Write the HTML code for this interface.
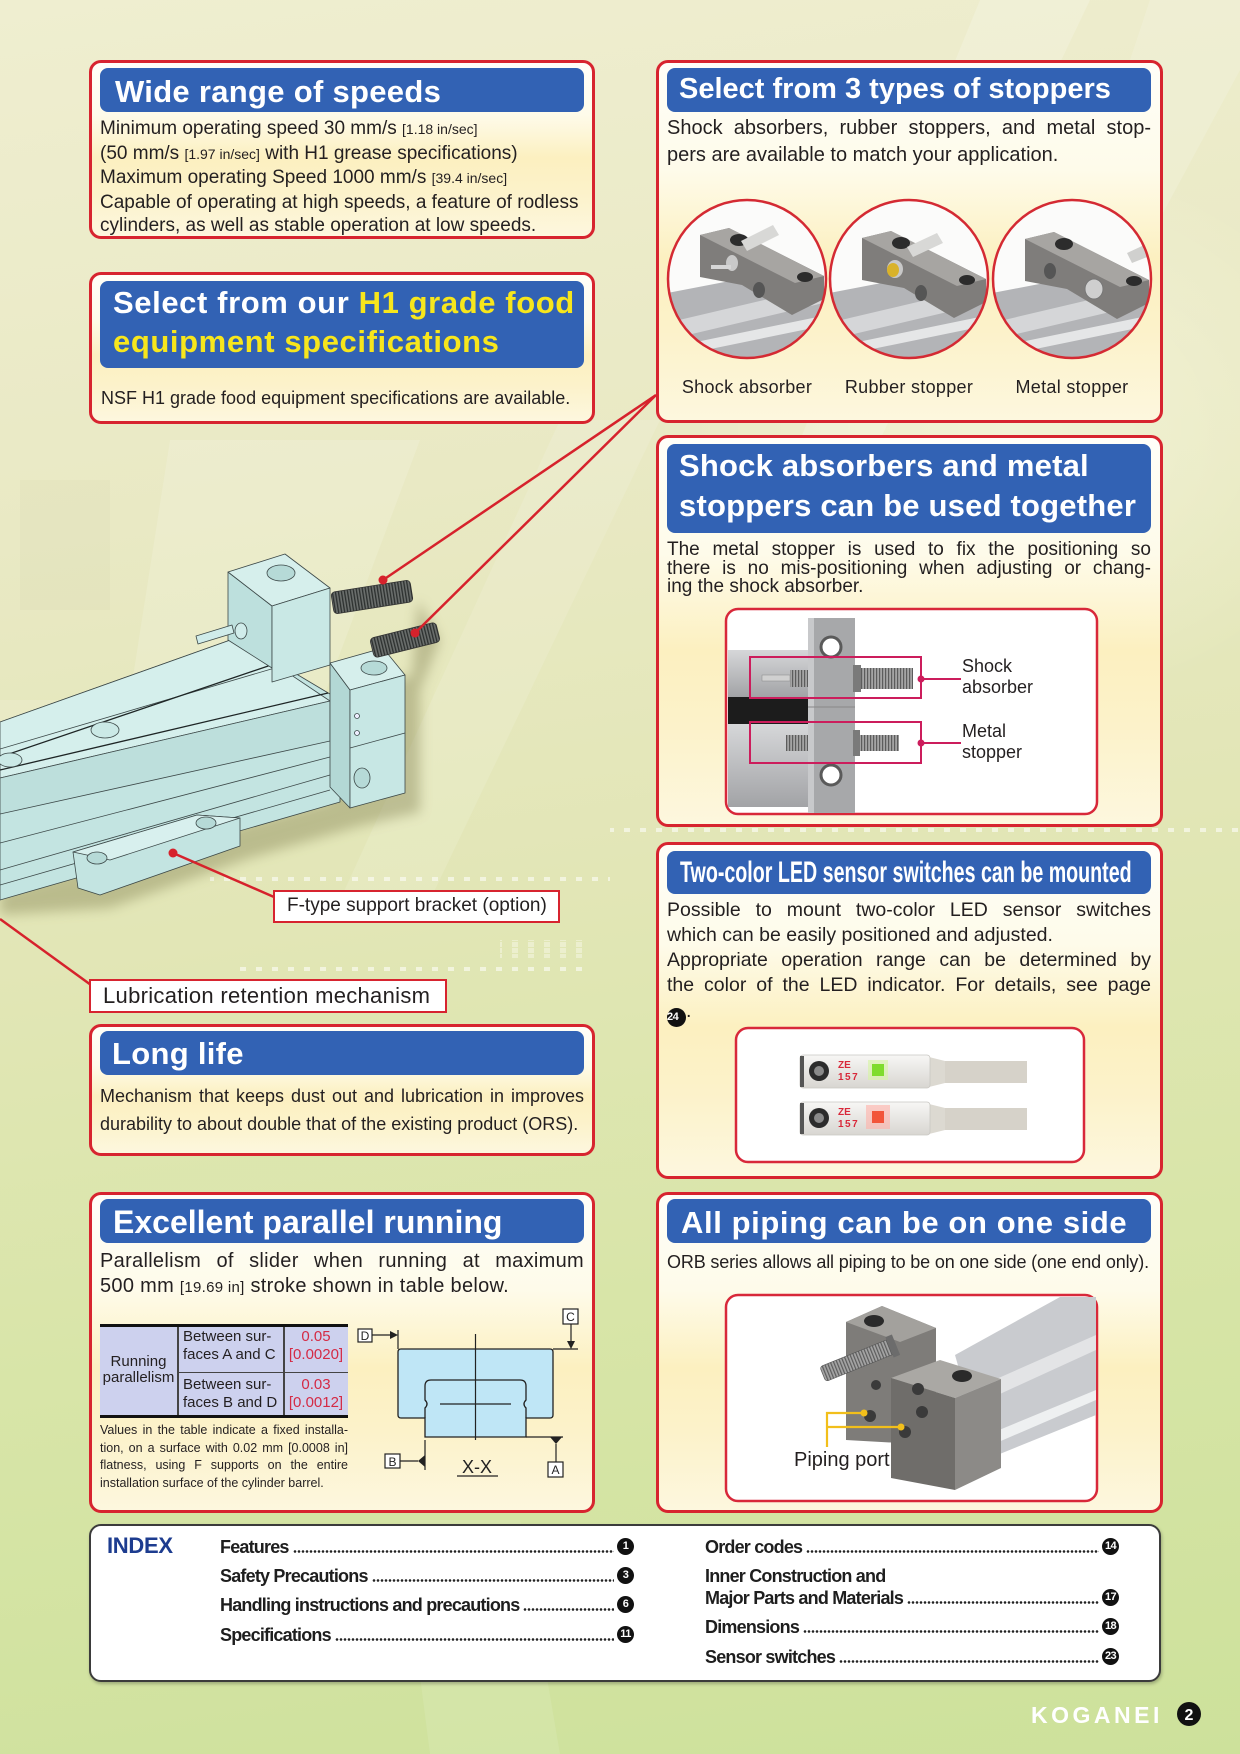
<!DOCTYPE html>
<html><head><meta charset="utf-8">
<style>
*{margin:0;padding:0;box-sizing:border-box}
html,body{width:1240px;height:1754px;overflow:hidden}
body{position:relative;font-family:"Liberation Sans",Arial,Helvetica,sans-serif;color:#231f20;
background:
radial-gradient(ellipse 520px 400px at 1010px 430px, rgba(255,255,236,0.45), rgba(255,255,236,0) 70%),
linear-gradient(172deg,#efeed0 0%,#e9e9c4 28%,#e2e6b6 50%,#d8e5a8 72%,#cde19b 100%);}
.box{position:absolute;border:3px solid #d7242f;border-radius:12px;background:linear-gradient(180deg,#fffef8 0%,#fefbea 30%,#fcf0c0 55%,#fcf2ca 75%,#fdf7de 100%)}
.hd{position:absolute;background:#3262b4;border-radius:8px}
.ht{position:absolute;color:#fff;font-weight:bold;white-space:nowrap}
.t{position:absolute;white-space:nowrap}
.j{position:absolute}
.j div{text-align:justify;text-align-last:justify;white-space:normal}
.j div.l{text-align-last:left}
.sm{font-size:14px}
.lab{position:absolute;background:#fff;border:2.5px solid #d7242f;white-space:nowrap}
.ir{position:absolute;display:flex;align-items:center;height:20px;font-weight:bold;font-size:18px;letter-spacing:-0.8px;line-height:20px;color:#1e1e1e;white-space:nowrap}
.ir .d{flex:1;height:3px;margin:0 3px 0 4px;transform:translateY(5px);background:radial-gradient(circle,#222 0,#222 1.1px,transparent 1.5px) 0 0/4px 3px repeat-x}
.n{display:inline-block;width:17px;height:17px;border-radius:50%;background:#111;color:#fff;font-size:11px;line-height:17px;text-align:center;letter-spacing:-0.6px;font-weight:bold;flex:none}
</style></head><body>

<!-- background decorations -->
<svg width="1240" height="1754" viewBox="0 0 1240 1754" style="position:absolute;left:0;top:0">
<defs>
<pattern id="dots" width="16" height="6" patternUnits="userSpaceOnUse"><rect x="0" y="0" width="6" height="5" fill="#fff"/></pattern>
</defs>
<polygon points="980,0 1090,0 880,440 800,440" fill="#fff" opacity="0.18"/>
<polygon points="1150,0 1240,0 1240,70 1100,330 1040,330" fill="#fff" opacity="0.15"/>
<polygon points="560,420 660,420 430,900 340,900" fill="#fff" opacity="0.12"/>
<polygon points="170,440 420,440 300,760 120,760" fill="#fff" opacity="0.14"/>
<rect x="20" y="480" width="90" height="130" fill="#c9c69a" opacity="0.1"/>
<rect x="0" y="700" width="60" height="140" fill="#fff" opacity="0.12"/>
<polygon points="400,1520 520,1520 560,1754 430,1754" fill="#fff" opacity="0.1"/>
<rect x="610" y="827" width="630" height="5" fill="url(#dots)" opacity="0.55"/>
<rect x="210" y="877" width="400" height="5" fill="url(#dots)" opacity="0.55"/>
<rect x="230" y="967" width="360" height="5" fill="url(#dots)" opacity="0.55"/>
<rect x="500" y="940" width="90" height="18" fill="url(#dots)" opacity="0.35"/>
</svg>

<!-- Box 1 -->
<div class="box" style="left:89px;top:60px;width:506px;height:179px"></div>
<div class="hd" style="left:100px;top:68px;width:484px;height:44px"></div>
<div class="ht" style="left:115px;top:76px;font-size:31px;line-height:31px;letter-spacing:0.3px">Wide range of speeds</div>
<div class="t" style="left:100px;top:117px;font-size:19px;line-height:23.5px">Minimum operating speed 30 mm/s <span class="sm">[1.18 in/sec]</span><br>(50 mm/s <span class="sm">[1.97 in/sec]</span> with H1 grease specifications)<br>Maximum operating Speed 1000 mm/s <span class="sm">[39.4 in/sec]</span><br>Capable of operating at high speeds, a feature of rodless<br>cylinders, as well as stable operation at low speeds.</div>

<!-- Box 2 -->
<div class="box" style="left:89px;top:272px;width:506px;height:152px"></div>
<div class="hd" style="left:100px;top:281px;width:484px;height:87px"></div>
<div class="ht" style="left:113px;top:283px;font-size:31px;line-height:39px;letter-spacing:0.6px">Select from our <span style="color:#f7e61c">H1 grade food</span><br><span style="color:#f7e61c">equipment specifications</span></div>
<div class="t" style="left:101px;top:389px;font-size:18px;line-height:18px">NSF H1 grade food equipment specifications are available.</div>

<!-- Box 3 -->
<div class="box" style="left:656px;top:60px;width:507px;height:363px"></div>
<div class="hd" style="left:667px;top:68px;width:484px;height:44px"></div>
<div class="ht" style="left:679px;top:74.5px;font-size:29px;line-height:29px">Select from 3 types of stoppers</div>
<div class="j" style="left:667px;top:114.6px;width:484px;font-size:20px;line-height:27px">
<div>Shock absorbers, rubber stoppers, and metal stop-</div>
<div class="l">pers are available to match your application.</div></div>
<div class="t" style="left:666px;top:378px;width:162px;text-align:center;font-size:18px;line-height:18px;letter-spacing:0.3px">Shock absorber</div>
<div class="t" style="left:828px;top:378px;width:162px;text-align:center;font-size:18px;line-height:18px;letter-spacing:0.3px">Rubber stopper</div>
<div class="t" style="left:991px;top:378px;width:162px;text-align:center;font-size:18px;line-height:18px;letter-spacing:0.3px">Metal stopper</div>

<!-- Box 4 -->
<div class="box" style="left:656px;top:435px;width:507px;height:392px"></div>
<div class="hd" style="left:667px;top:444px;width:484px;height:89px"></div>
<div class="ht" style="left:679px;top:446px;font-size:31px;line-height:40px;letter-spacing:0.2px">Shock absorbers and metal<br>stoppers can be used together</div>
<div class="j" style="left:667px;top:541px;width:484px;font-size:19px;line-height:18.7px">
<div>The metal stopper is used to fix the positioning so</div>
<div>there is no mis-positioning when adjusting or chang-</div>
<div class="l">ing the shock absorber.</div></div>

<!-- Box 5 -->
<div class="box" style="left:656px;top:842px;width:507px;height:337px"></div>
<div class="hd" style="left:667px;top:851px;width:484px;height:43px"></div>
<div class="ht" style="left:680px;top:857.6px;font-size:30px;line-height:30px;transform:scaleX(0.655);transform-origin:0 0">Two-color LED sensor switches can be mounted</div>
<div class="j" style="left:667px;top:897.6px;width:484px;font-size:19.5px;line-height:25.3px">
<div>Possible to mount two-color LED sensor switches</div>
<div class="l">which can be easily positioned and adjusted.</div>
<div>Appropriate operation range can be determined by</div>
<div>the color of the LED indicator. For details, see page</div>
<div class="l"><span style="display:inline-block;width:19px;height:19px;border-radius:50%;background:#111;color:#fff;font-size:11px;font-weight:bold;line-height:19px;text-align:center;letter-spacing:-0.5px;vertical-align:-3px">24</span>.</div></div>

<!-- Box 6 Long life -->
<div class="box" style="left:89px;top:1024px;width:506px;height:132px"></div>
<div class="hd" style="left:100px;top:1031px;width:484px;height:44px"></div>
<div class="ht" style="left:112px;top:1038px;font-size:31px;line-height:31px;letter-spacing:0.3px">Long life</div>
<div class="j" style="left:100px;top:1083px;width:484px;font-size:18px;line-height:27.5px">
<div>Mechanism that keeps dust out and lubrication in improves</div>
<div class="l">durability to about double that of the existing product (ORS).</div></div>

<!-- Box 7 Excellent -->
<div class="box" style="left:89px;top:1192px;width:506px;height:321px"></div>
<div class="hd" style="left:100px;top:1199px;width:484px;height:44px"></div>
<div class="ht" style="left:113px;top:1206px;font-size:32px;line-height:32px">Excellent parallel running</div>
<div class="j" style="left:100px;top:1248.6px;width:484px;font-size:20px;line-height:25px;letter-spacing:0.3px">
<div>Parallelism of slider when running at maximum</div>
<div class="l">500 mm <span style="font-size:15px">[19.69 in]</span> stroke shown in table below.</div></div>

<div style="position:absolute;left:100px;top:1324px;width:248px;height:94px;background:#cdd1ee;border-top:3px solid #111;border-bottom:3px solid #111"></div>
<div style="position:absolute;left:177px;top:1327px;width:1.5px;height:88px;background:#444"></div>
<div style="position:absolute;left:283px;top:1327px;width:1.5px;height:88px;background:#444"></div>
<div style="position:absolute;left:177px;top:1371.5px;width:171px;height:1.5px;background:#444"></div>
<div class="t" style="left:100px;top:1353.5px;width:77px;text-align:center;font-size:15px;line-height:16.5px">Running<br>parallelism</div>
<div class="t" style="left:183px;top:1327.8px;font-size:15px;line-height:18px">Between sur-<br>faces A and C</div>
<div class="t" style="left:183px;top:1375.8px;font-size:15px;line-height:18px">Between sur-<br>faces B and D</div>
<div class="t" style="left:284px;top:1327.8px;width:64px;text-align:center;font-size:15px;line-height:18px;color:#d42a45">0.05<br>[0.0020]</div>
<div class="t" style="left:284px;top:1375.8px;width:64px;text-align:center;font-size:15px;line-height:18px;color:#d42a45">0.03<br>[0.0012]</div>
<div class="j" style="left:100px;top:1421.8px;width:248px;font-size:12.5px;line-height:17.8px">
<div>Values in the table indicate a fixed installa-</div>
<div>tion, on a surface with 0.02 mm [0.0008 in]</div>
<div>flatness, using F supports on the entire</div>
<div class="l">installation surface of the cylinder barrel.</div></div>

<!-- Box 8 Piping -->
<div class="box" style="left:656px;top:1192px;width:507px;height:321px"></div>
<div class="hd" style="left:667px;top:1199px;width:484px;height:44px"></div>
<div class="ht" style="left:681px;top:1206.8px;font-size:31px;line-height:31px;letter-spacing:0.6px">All piping can be on one side</div>
<div class="t" style="left:667px;top:1252.8px;font-size:18px;line-height:18px;letter-spacing:-0.15px">ORB series allows all piping to be on one side (one end only).</div>

<!-- Index -->
<div style="position:absolute;left:89px;top:1524px;width:1072px;height:158px;background:#fff;border:2px solid #3b3b3b;border-radius:12px;box-shadow:1px 2px 3px rgba(0,0,0,0.25)"></div>

<!-- foreground graphics -->
<svg width="1240" height="1754" viewBox="0 0 1240 1754" style="position:absolute;left:0;top:0">
<defs>
<clipPath id="cc"><circle cx="0" cy="0" r="79"/></clipPath>
<pattern id="thr" width="3" height="10" patternUnits="userSpaceOnUse"><rect width="3" height="10" fill="#6a6e6c"/><rect width="1.3" height="10" fill="#2c302f"/></pattern>
<pattern id="thr2" width="3" height="10" patternUnits="userSpaceOnUse"><rect width="3" height="10" fill="#a4a4a4"/><rect width="1.2" height="10" fill="#5c5c5c"/></pattern>
<linearGradient id="gcyl" x1="0" y1="0" x2="0" y2="1"><stop offset="0" stop-color="#d6d7d9"/><stop offset="1" stop-color="#a2a3a6"/></linearGradient>
<linearGradient id="gsen" x1="0" y1="0" x2="0" y2="1"><stop offset="0" stop-color="#f7f7f5"/><stop offset="1" stop-color="#d8d6d1"/></linearGradient>
<filter id="bl" x="-20%" y="-20%" width="140%" height="140%"><feGaussianBlur stdDeviation="6"/></filter>
</defs>

<!-- cylinder drawing -->
<polygon points="0,892 330,800 340,700 348,690 412,676 418,600 440,640 420,690 420,812 360,826 250,858 110,908 0,915" fill="#6f6d3c" opacity="0.35" filter="url(#bl)"/>
<g stroke="#3c4848" stroke-width="0.8" stroke-linejoin="round">
<polygon points="0,722 236,638 340,700 340,802 0,900" fill="#c3e4e1"/>
<polygon points="0,722 236,638 330,701 0,778" fill="#d5efec"/>
<line x1="0" y1="749" x2="285" y2="665"/>
<polygon points="0,778 330,701 330,741 0,814" fill="#bddfdc"/>
<line x1="0" y1="843" x2="330" y2="757"/>
<line x1="0" y1="870" x2="330" y2="775"/>
<line x1="0" y1="885" x2="330" y2="790"/>
<line x1="0" y1="757" x2="280" y2="662" stroke="#1e2525" stroke-width="1.3"/>
<line x1="0" y1="770" x2="328" y2="693" stroke="#1e2525" stroke-width="1.3"/>
<ellipse cx="105" cy="730" rx="14" ry="8" fill="#cbe9e6"/>
<ellipse cx="10" cy="760" rx="12" ry="7" fill="#cbe9e6"/>
<!-- F bracket -->
<polygon points="73,852 197,815 240,818 240,846 100,895 78,888" fill="#c3e4e1"/>
<polygon points="73,852 197,815 240,818 110,860" fill="#d8f0ee"/>
<ellipse cx="97" cy="858" rx="10" ry="6" fill="#b6dad7"/>
<ellipse cx="206" cy="823" rx="10" ry="6" fill="#b6dad7"/>
<!-- back block -->
<polygon points="228,572 272,606 272,668 228,640" fill="#bde0dd"/>
<polygon points="228,572 285,554 330,588 272,606" fill="#d6efec"/>
<polygon points="272,606 330,588 330,665 272,682" fill="#c9e8e5"/>
<ellipse cx="281" cy="573" rx="14" ry="8" fill="#b6dad7"/>
<polygon points="196,636 232,625 234,633 198,644" fill="#d0ecea"/>
<ellipse cx="241" cy="631" rx="6" ry="8" fill="#d0ecea"/>
<!-- front plate -->
<polygon points="330,663 350,690 350,808 330,787" fill="#b3d8d5"/>
<polygon points="330,663 383,648 405,675 350,690" fill="#d6efec"/>
<polygon points="350,690 405,675 405,793 350,808" fill="#c7e7e4"/>
<ellipse cx="374" cy="668" rx="13" ry="7" fill="#b6dad7"/>
<line x1="350" y1="748" x2="405" y2="733"/>
<circle cx="357" cy="716" r="2.5" fill="#eef"/>
<circle cx="357" cy="733" r="2.5" fill="#eef"/>
<ellipse cx="362" cy="778" rx="8" ry="10" fill="#b6dad7"/>
</g>
<g transform="translate(372,597) rotate(-9)"><rect x="-40" y="-11" width="80" height="22" rx="4" fill="url(#thr)" stroke="#333" stroke-width="0.8"/></g>
<g transform="translate(405,640) rotate(-14)"><rect x="-34" y="-10" width="68" height="20" rx="4" fill="url(#thr)" stroke="#333" stroke-width="0.8"/></g>

<!-- red leader lines -->
<g stroke="#d6222c" stroke-width="2.5" fill="none">
<line x1="656" y1="395" x2="383" y2="580"/>
<line x1="656" y1="395" x2="415" y2="633"/>
<line x1="173" y1="853" x2="274" y2="897"/>
<line x1="0" y1="919" x2="91" y2="985"/>
</g>
<g fill="#d6222c"><circle cx="383" cy="580" r="4.5"/><circle cx="415" cy="633" r="4.5"/><circle cx="173" cy="853" r="4.5"/></g>

<!-- stopper circles -->
<g transform="translate(747,279)">
<g clip-path="url(#cc)">
<circle r="79" fill="#fbfbfa"/>
<polygon points="-85,15 35,-8 85,18 85,85 -85,85" fill="#b3b4b7"/>
<polygon points="-85,45 85,5 85,22 -85,62" fill="#d5d6d8"/>
<polygon points="-85,70 85,35 85,45 -85,80" fill="#e5e6e7"/>
<polygon points="-47,-44 -18,-51 77,-3 77,20 45,36 -5,6 -47,-2" fill="#7f7d7b"/>
<polygon points="-47,-44 -18,-51 77,-3 48,4" fill="#a7a5a2"/>
<ellipse cx="-8" cy="-39" rx="9" ry="6" fill="#2c2c2c"/>
<ellipse cx="58" cy="-2" rx="8" ry="5" fill="#2c2c2c"/>
<ellipse cx="12" cy="11" rx="6" ry="8" fill="#555"/>
<polygon points="-6,-38 26,-54 32,-44 0,-28" fill="#d8d8d6"/>
<ellipse cx="-15" cy="-16" rx="6" ry="8" fill="#c9c9c9"/>
<rect x="-36" y="-14" width="20" height="4" fill="#d6d6d6"/>
</g>
<circle r="79" fill="none" stroke="#d42a33" stroke-width="2.5"/>
</g>
<g transform="translate(909,279)">
<g clip-path="url(#cc)">
<circle r="79" fill="#fbfbfa"/>
<polygon points="-85,15 35,-8 85,18 85,85 -85,85" fill="#b3b4b7"/>
<polygon points="-85,45 85,5 85,22 -85,62" fill="#d5d6d8"/>
<polygon points="-85,70 85,35 85,45 -85,80" fill="#e5e6e7"/>
<polygon points="-47,-41 -18,-48 77,0 77,23 45,39 -5,9 -47,1" fill="#7f7d7b"/>
<polygon points="-47,-41 -18,-48 77,0 48,7" fill="#a7a5a2"/>
<ellipse cx="-8" cy="-36" rx="9" ry="6" fill="#2c2c2c"/>
<ellipse cx="58" cy="1" rx="8" ry="5" fill="#2c2c2c"/>
<ellipse cx="12" cy="14" rx="6" ry="8" fill="#555"/>
<polygon points="-2,-32 28,-46 34,-36 4,-22" fill="#d8d8d6"/>
<ellipse cx="-14" cy="-10" rx="8" ry="9" fill="#c8c8c8"/>
<ellipse cx="-16" cy="-9" rx="6" ry="7" fill="#d9b22a"/>
</g>
<circle r="79" fill="none" stroke="#d42a33" stroke-width="2.5"/>
</g>
<g transform="translate(1072,279)">
<g clip-path="url(#cc)">
<circle r="79" fill="#fbfbfa"/>
<polygon points="-85,15 35,-8 85,18 85,85 -85,85" fill="#b3b4b7"/>
<polygon points="-85,45 85,5 85,22 -85,62" fill="#d5d6d8"/>
<polygon points="-85,70 85,35 85,45 -85,80" fill="#e5e6e7"/>
<polygon points="-47,-40 -18,-47 77,1 77,24 45,40 -5,10 -47,2" fill="#7f7d7b"/>
<polygon points="-47,-40 -18,-47 77,1 48,8" fill="#a7a5a2"/>
<ellipse cx="-8" cy="-35" rx="9" ry="6" fill="#2c2c2c"/>
<ellipse cx="62" cy="2" rx="8" ry="5" fill="#2c2c2c"/>
<ellipse cx="-22" cy="-8" rx="6" ry="8" fill="#555"/>
<polygon points="55,-26 85,-40 85,-26 60,-16" fill="#d0d0ce"/>
<ellipse cx="22" cy="10" rx="9" ry="10" fill="#cfcfcf" stroke="#777" stroke-width="1"/>
</g>
<circle r="79" fill="none" stroke="#d42a33" stroke-width="2.5"/>
</g>

<!-- shock absorber photo -->
<rect x="726" y="609" width="371" height="205" rx="12" fill="#fff" stroke="#d8283a" stroke-width="2.5"/>
<rect x="728" y="650" width="80" height="47" fill="url(#gcyl)"/>
<rect x="728" y="697" width="80" height="27" fill="#1c1c1c"/>
<rect x="728" y="724" width="80" height="83" fill="url(#gcyl)"/>
<rect x="808" y="618" width="47" height="195" fill="#a7a8aa"/>
<rect x="808" y="618" width="6" height="195" fill="#c8c9cb"/>
<line x1="808" y1="707" x2="855" y2="707" stroke="#888" stroke-width="1"/>
<circle cx="831" cy="647" r="10" fill="#fff" stroke="#5a5a5a" stroke-width="3"/>
<circle cx="831" cy="775" r="10" fill="#fff" stroke="#5a5a5a" stroke-width="3"/>
<rect x="762" y="675" width="28" height="6" fill="#d0d0d0" stroke="#888" stroke-width="0.5"/>
<rect x="790" y="670" width="18" height="17" fill="url(#thr2)"/>
<rect x="853" y="665" width="8" height="27" fill="#7a7a7a"/>
<rect x="861" y="668" width="52" height="21" fill="url(#thr2)"/>
<rect x="786" y="735" width="22" height="16" fill="url(#thr2)"/>
<rect x="853" y="730" width="7" height="26" fill="#7a7a7a"/>
<rect x="860" y="735" width="39" height="16" fill="url(#thr2)"/>
<g stroke="#cc1d5c" stroke-width="2" fill="none">
<rect x="750" y="657" width="171" height="41"/>
<rect x="750" y="722" width="171" height="41"/>
<line x1="921" y1="679" x2="961" y2="679"/>
<line x1="921" y1="743" x2="961" y2="743"/>
</g>
<circle cx="921" cy="679" r="3.5" fill="#cc1d5c"/>
<circle cx="921" cy="743" r="3.5" fill="#cc1d5c"/>

<!-- LED photo -->
<rect x="736" y="1028" width="348" height="134" rx="12" fill="#fff" stroke="#d8283a" stroke-width="2.5"/>
<g>
<rect x="935" y="1061" width="92" height="22" fill="#d6d2c9"/>
<polygon points="925,1056 945,1061 945,1083 925,1088" fill="#dcd9d1"/>
<rect x="800" y="1055" width="130" height="33" rx="3" fill="url(#gsen)" stroke="#c9c7c2" stroke-width="0.8"/>
<rect x="800" y="1056" width="4" height="31" fill="#555"/>
<circle cx="819" cy="1071" r="10" fill="#2c2c2c"/>
<circle cx="819" cy="1071" r="5" fill="#8a8a8a"/>
<text x="838" y="1068" font-family="Liberation Sans, sans-serif" font-size="10" font-weight="bold" fill="#d8283a">ZE</text>
<text x="838" y="1080" font-family="Liberation Sans, sans-serif" font-size="10" font-weight="bold" fill="#d8283a" letter-spacing="1.5">157</text>
<rect x="868" y="1060" width="20" height="20" fill="#d6f5a0" opacity="0.6"/>
<rect x="872" y="1064" width="12" height="12" fill="#7fdc2e"/>
</g>
<g transform="translate(0,47)">
<rect x="935" y="1061" width="92" height="22" fill="#d6d2c9"/>
<polygon points="925,1056 945,1061 945,1083 925,1088" fill="#dcd9d1"/>
<rect x="800" y="1055" width="130" height="33" rx="3" fill="url(#gsen)" stroke="#c9c7c2" stroke-width="0.8"/>
<rect x="800" y="1056" width="4" height="31" fill="#555"/>
<circle cx="819" cy="1071" r="10" fill="#2c2c2c"/>
<circle cx="819" cy="1071" r="5" fill="#8a8a8a"/>
<text x="838" y="1068" font-family="Liberation Sans, sans-serif" font-size="10" font-weight="bold" fill="#d8283a">ZE</text>
<text x="838" y="1080" font-family="Liberation Sans, sans-serif" font-size="10" font-weight="bold" fill="#d8283a" letter-spacing="1.5">157</text>
<rect x="866" y="1058" width="24" height="24" fill="#ffb0a8" opacity="0.6"/>
<rect x="872" y="1064" width="12" height="12" fill="#f2553a"/>
</g>

<!-- piping photo -->
<rect x="726" y="1295" width="371" height="206" rx="12" fill="#fff" stroke="#d8283a" stroke-width="2.5"/>
<polygon points="955,1355 1060,1297 1096,1297 1096,1415 985,1460" fill="#c9cbcf"/>
<polygon points="960,1395 1096,1335 1096,1350 965,1410" fill="#e3e4e6"/>
<polygon points="975,1440 1096,1390 1096,1400 980,1450" fill="#eef0f1"/>
<polygon points="846,1322 882,1306 936,1328 936,1445 846,1440" fill="#7e7c79"/>
<polygon points="846,1322 882,1306 936,1328 900,1342" fill="#a3a19d"/>
<ellipse cx="874" cy="1321" rx="10" ry="6" fill="#2a2a2a"/>
<polygon points="891,1378 940,1360 1001,1379 955,1398" fill="#aaa8a4"/>
<polygon points="891,1378 955,1398 955,1490 891,1478" fill="#6f6d6a"/>
<polygon points="955,1398 1001,1379 1001,1468 955,1490" fill="#8c8a87"/>
<ellipse cx="962" cy="1376" rx="10" ry="6" fill="#2a2a2a"/>
<circle cx="918" cy="1389" r="6" fill="#3a3a3a"/>
<circle cx="922" cy="1412" r="6" fill="#3a3a3a"/>
<circle cx="905" cy="1432" r="6" fill="#3a3a3a"/>
<circle cx="870" cy="1416" r="6" fill="#3a3a3a"/>
<circle cx="876" cy="1385" r="5" fill="#3a3a3a"/>
<g transform="translate(858,1360) rotate(-22)"><rect x="-38" y="-8" width="76" height="16" rx="3" fill="url(#thr2)" stroke="#555" stroke-width="0.6"/><rect x="34" y="-11" width="7" height="22" fill="#6c6c6c"/></g>
<path d="M827,1447 V1413 H864 M827,1427 H901" stroke="#f2bf1b" stroke-width="2.2" fill="none"/>
<circle cx="864" cy="1413" r="3.5" fill="#f2bf1b"/>
<circle cx="901" cy="1427" r="3.5" fill="#f2bf1b"/>

<!-- X-X section diagram -->
<path d="M398,1352 q0,-3 3,-3 H550 q3,0 3,3 V1415 q0,3 -3,3 H526 V1437 H425 V1418 H401 q-3,0 -3,-3 Z" fill="#bfe6f6" stroke="#222" stroke-width="1.3"/>
<path d="M425,1418 V1408 q4,-4 0,-8 V1386 q0,-6 6,-6 H520 q6,0 6,6 V1400 q-4,4 0,8 V1418" fill="none" stroke="#222" stroke-width="1.3"/>
<g stroke="#222" stroke-width="1.2" fill="none">
<line x1="475.5" y1="1334" x2="475.5" y2="1440"/>
<line x1="440" y1="1404" x2="511" y2="1404"/>
<line x1="553" y1="1349" x2="578" y2="1349"/>
<line x1="571" y1="1324" x2="571" y2="1341"/>
<line x1="398" y1="1330" x2="398" y2="1349"/>
<line x1="372" y1="1335" x2="390" y2="1335"/>
<line x1="425" y1="1440" x2="425" y2="1470"/>
<line x1="400" y1="1461" x2="418" y2="1461"/>
<line x1="526" y1="1437" x2="563" y2="1437"/>
<line x1="556" y1="1444" x2="556" y2="1462"/>
<line x1="457" y1="1476" x2="498" y2="1476"/>
<rect x="563" y="1309" width="15" height="15" fill="#fff"/>
<rect x="358" y="1329" width="14" height="13" fill="#fff"/>
<rect x="385" y="1454" width="15" height="14" fill="#fff"/>
<rect x="548" y="1462" width="15" height="15" fill="#fff"/>
</g>
<g fill="#222">
<polygon points="567,1341 575,1341 571,1349"/>
<polygon points="390,1331 390,1339 398,1335"/>
<polygon points="425,1455 425,1467 418,1461"/>
<polygon points="550,1437 562,1437 556,1444"/>
</g>
<g font-family="Liberation Sans, sans-serif" font-size="12" fill="#222" text-anchor="middle">
<text x="570.5" y="1321">C</text>
<text x="365" y="1340">D</text>
<text x="392.5" y="1466">B</text>
<text x="555.5" y="1474">A</text>
</g>
<text x="477" y="1473" font-family="Liberation Sans, sans-serif" font-size="18" fill="#222" text-anchor="middle">X-X</text>

<!-- logo page number -->
<circle cx="1189" cy="1714" r="12" fill="#111"/>
<text x="1189" y="1720" font-family="Liberation Sans, sans-serif" font-size="16" font-weight="bold" fill="#fff" text-anchor="middle">2</text>
</svg>

<!-- Labels in photos -->
<div class="t" style="left:962px;top:656px;font-size:18px;line-height:21px">Shock<br>absorber</div>
<div class="t" style="left:962px;top:721px;font-size:18px;line-height:21px">Metal<br>stopper</div>
<div class="t" style="left:794px;top:1450px;font-size:20px;line-height:20px">Piping port</div>

<!-- Callout label boxes -->
<div class="lab" style="left:273px;top:890px;width:287px;height:33px;font-size:19px;line-height:28px;padding-left:12px">F-type support bracket (option)</div>
<div class="lab" style="left:89px;top:979px;width:358px;height:34px;font-size:22px;line-height:29px;padding-left:12px;letter-spacing:0.3px">Lubrication retention mechanism</div>

<!-- Index content -->
<div class="t" style="left:107px;top:1535.4px;font-size:22px;line-height:22px;font-weight:bold;color:#1d3c8f;letter-spacing:-0.3px">INDEX</div>
<div class="ir" style="left:220px;top:1536.8px;width:414px"><span>Features</span><span class="d"></span><span class="n">1</span></div>
<div class="ir" style="left:220px;top:1565.8px;width:414px"><span>Safety Precautions</span><span class="d"></span><span class="n">3</span></div>
<div class="ir" style="left:220px;top:1594.8px;width:414px"><span>Handling instructions and precautions</span><span class="d"></span><span class="n">6</span></div>
<div class="ir" style="left:220px;top:1624.8px;width:414px"><span>Specifications</span><span class="d"></span><span class="n">11</span></div>
<div class="ir" style="left:705px;top:1536.8px;width:414px"><span>Order codes</span><span class="d"></span><span class="n">14</span></div>
<div class="ir" style="left:705px;top:1565.8px;width:414px"><span>Inner Construction and</span></div>
<div class="ir" style="left:705px;top:1587.8px;width:414px"><span>Major Parts and Materials</span><span class="d"></span><span class="n">17</span></div>
<div class="ir" style="left:705px;top:1616.8px;width:414px"><span>Dimensions</span><span class="d"></span><span class="n">18</span></div>
<div class="ir" style="left:705px;top:1646.8px;width:414px"><span>Sensor switches</span><span class="d"></span><span class="n">23</span></div>

<div class="t" style="left:1031px;top:1703.5px;font-size:23px;line-height:23px;font-weight:bold;color:#fff;letter-spacing:3.5px">KOGANEI</div>
</body></html>
